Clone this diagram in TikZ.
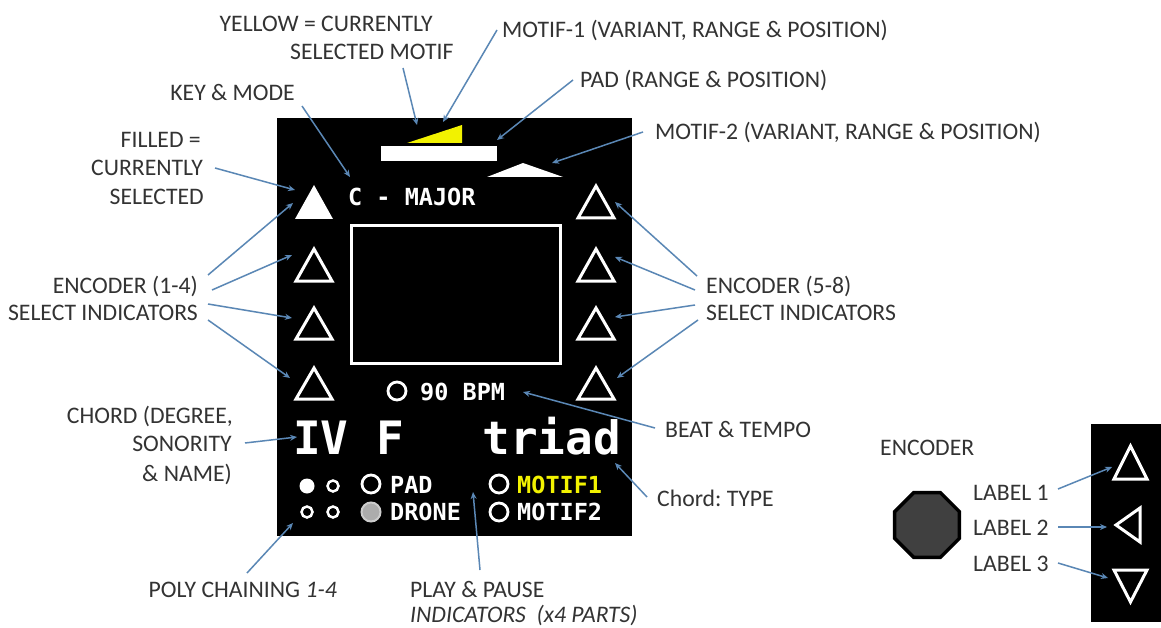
\documentclass[tikz,border=0pt]{standalone}
\usepackage{fontspec}
\setmainfont{Carlito}
\newfontfamily\panelfont{DejaVu Sans Mono}
\usetikzlibrary{arrows.meta,shapes.geometric}
\definecolor{lblgray}{HTML}{333333}
\definecolor{arrowblue}{HTML}{5A87B5}
\definecolor{oledyellow}{HTML}{F2F200}
\begin{document}
\begin{tikzpicture}[x=1pt,y=-1pt,
  lbl/.style={font=\frenchspacing\fontsize{23.7}{28}\selectfont, text=lblgray, inner sep=0pt},
  arr/.style={draw=arrowblue, line width=1.5pt, -{Stealth[length=7pt,width=6pt]}},
  pnl/.style={font=\panelfont\bfseries\fontsize{23.5}{28}\selectfont, text=white, inner sep=0pt},
  big/.style={font=\panelfont\bfseries\fontsize{46}{50}\selectfont, text=white, inner sep=0pt},
  tri/.style={draw=white, line width=3pt, line join=miter},
  ring/.style={draw=white, line width=2.8pt}
]
\useasboundingbox (0,0) rectangle (1161,628);
\fill[white] (0,0) rectangle (1161,628);

% ---- panels
\fill[black] (277,118) rectangle (632,536);
\fill[black] (1091,424) rectangle (1161,622);

% ---- top indicators
\fill[oledyellow] (407,143) -- (462,143) -- (462,125) -- cycle;
\fill[white] (381,146) rectangle (497,161);
\fill[white] (487,177) -- (563,177) -- (523,163) -- cycle;

% ---- left triangles
\fill[white] (295,219) -- (333,219) -- (314,185) -- cycle;
\draw[tri] (296,281) -- (332,281) -- (314,249) -- cycle;
\draw[tri] (296,339) -- (332,339) -- (314,308) -- cycle;
\draw[tri] (296,399) -- (332,399) -- (314,368) -- cycle;
% ---- right triangles
\draw[tri] (578,218) -- (614,218) -- (596,186) -- cycle;
\draw[tri] (578,281) -- (614,281) -- (596,249) -- cycle;
\draw[tri] (578,339) -- (614,339) -- (596,308) -- cycle;
\draw[tri] (578,399) -- (614,399) -- (596,368) -- cycle;

% ---- screen rectangle
\draw[white, line width=3pt] (351,226) rectangle (560,363);

% ---- panel texts
\node[pnl, anchor=base west] (key) at (348,206) {C - MAJOR};
\draw[ring] (397,391) circle (9);
\node[pnl, anchor=base west] (bpm) at (420,400) {90 BPM};
\node[big, anchor=base west] (chord) at (293,454) {IV F};
\node[big, anchor=base east] (triad) at (621,454) {triad};

\fill[white] (307,486) circle (7.5);
\draw[white, line width=2.5pt] (333,486) circle (5.5);
\draw[white, line width=2.5pt] (307,512) circle (5.5);
\draw[white, line width=2.5pt] (333,512) circle (5.5);

\draw[ring] (371,484) circle (9);
\node[pnl, anchor=base west] (pad) at (390,493) {PAD};
\draw[draw=gray!40, fill=gray!65, line width=2pt] (371,512) circle (9.5);
\node[pnl, anchor=base west] (drone) at (390,520) {DRONE};
\draw[ring] (499,484) circle (9);
\node[pnl, anchor=base west, text=oledyellow] (m1) at (517,493) {MOTIF1};
\draw[ring] (499,512) circle (9);
\node[pnl, anchor=base west] (m2) at (517,520) {MOTIF2};

% ---- encoder panel
\node[regular polygon, regular polygon sides=8, minimum size=70pt, fill=black!75, draw=black, line width=3.5pt, inner sep=0pt] (knob) at (927,525) {};
\draw[tri] (1114,479) -- (1147,479) -- (1130.5,446) -- cycle;
\draw[tri] (1116,525) -- (1140,508) -- (1140,542) -- cycle;
\draw[tri] (1114,570) -- (1147,570) -- (1130.5,602) -- cycle;

% ---- labels
\node[lbl, anchor=base east] (yel1) at (433,32) {YELLOW = CURRENTLY};
\node[lbl, anchor=base west] (yel2) at (290,60) {SELECTED MOTIF};
\node[lbl, anchor=base west] (mo1) at (502,38) {MOTIF-1 (VARIANT, RANGE \& POSITION)};
\node[lbl, anchor=base west] (padl) at (580,88) {PAD (RANGE \& POSITION)};
\node[lbl, anchor=base west] (mo2) at (655,140) {MOTIF-2 (VARIANT, RANGE \& POSITION)};
\node[lbl, anchor=base east] (keyl) at (295,101) {KEY \& MODE};
\node[lbl, anchor=base east] (fil1) at (201,148) {FILLED =};
\node[lbl, anchor=base east] (fil2) at (203,176) {CURRENTLY};
\node[lbl, anchor=base east] (fil3) at (204,205) {SELECTED};
\node[lbl, anchor=base east] (enc1) at (198,293) {ENCODER (1-4)};
\node[lbl, anchor=base east] (sel1) at (198,320) {SELECT INDICATORS};
\node[lbl, anchor=base east] (ch1) at (233,423) {CHORD (DEGREE,};
\node[lbl, anchor=base east] (ch2) at (232,451) {SONORITY};
\node[lbl, anchor=base east] (ch3) at (232,481) {\& NAME)};
\node[lbl, anchor=base east] (poly) at (337,597) {POLY CHAINING \textit{1-4}};
\node[lbl, anchor=base west] (play1) at (410,597) {PLAY \& PAUSE};
\node[lbl, anchor=base west] (play2) at (410,622) {\textit{INDICATORS\ \ (x4 PARTS)}};
\node[lbl, anchor=base west] (type) at (657,506) {Chord: TYPE};
\node[lbl, anchor=base west] (beat) at (665,437) {BEAT \& TEMPO};
\node[lbl, anchor=base west] (enc2) at (706,293) {ENCODER (5-8)};
\node[lbl, anchor=base west] (sel2) at (706,320) {SELECT INDICATORS};
\node[lbl, anchor=base west] (encl) at (880,455) {ENCODER};
\node[lbl, anchor=base west] (lab1) at (973,500) {LABEL 1};
\node[lbl, anchor=base west] (lab2) at (973,535) {LABEL 2};
\node[lbl, anchor=base west] (lab3) at (973,571) {LABEL 3};

% ---- connector end points
\coordinate (s1) at (403,68);   \coordinate (t1) at (417,125);
\coordinate (s2) at (497,30);   \coordinate (t2) at (443,122);
\coordinate (s3) at (573,80);   \coordinate (t3) at (497,140);
\coordinate (s4) at (643,132);  \coordinate (t4) at (552,163);
\coordinate (s5) at (302,106);  \coordinate (t5) at (350,177);
\coordinate (s6) at (215,168);  \coordinate (t6) at (295,190);
\coordinate (s7) at (208,275);  \coordinate (t7) at (293,203);
\coordinate (s8) at (212,290);  \coordinate (t8) at (292,255);
\coordinate (s9) at (208,304);  \coordinate (t9) at (292,318);
\coordinate (s10) at (208,320); \coordinate (t10) at (290,378);
\coordinate (s11) at (245,443); \coordinate (t11) at (297,437);
\coordinate (s12) at (247,573); \coordinate (t12) at (293,523);
\coordinate (s13) at (480,570); \coordinate (t13) at (473,492);
\coordinate (s14) at (647,497); \coordinate (t14) at (615,463);
\coordinate (s15) at (655,428); \coordinate (t15) at (523,392);
\coordinate (s16) at (697,276); \coordinate (t16) at (615,202);
\coordinate (s17) at (695,290); \coordinate (t17) at (615,257);
\coordinate (s18) at (695,305); \coordinate (t18) at (615,317);
\coordinate (s19) at (698,320); \coordinate (t19) at (617,378);
\coordinate (s20) at (1058,489); \coordinate (t20) at (1112,467);
\coordinate (s21) at (1058,527); \coordinate (t21) at (1107,527);
\coordinate (s22) at (1058,563); \coordinate (t22) at (1108,578);

\foreach \i in {1,...,22} { \draw[arr] (s\i) -- (t\i); }
\end{tikzpicture}
\end{document}
